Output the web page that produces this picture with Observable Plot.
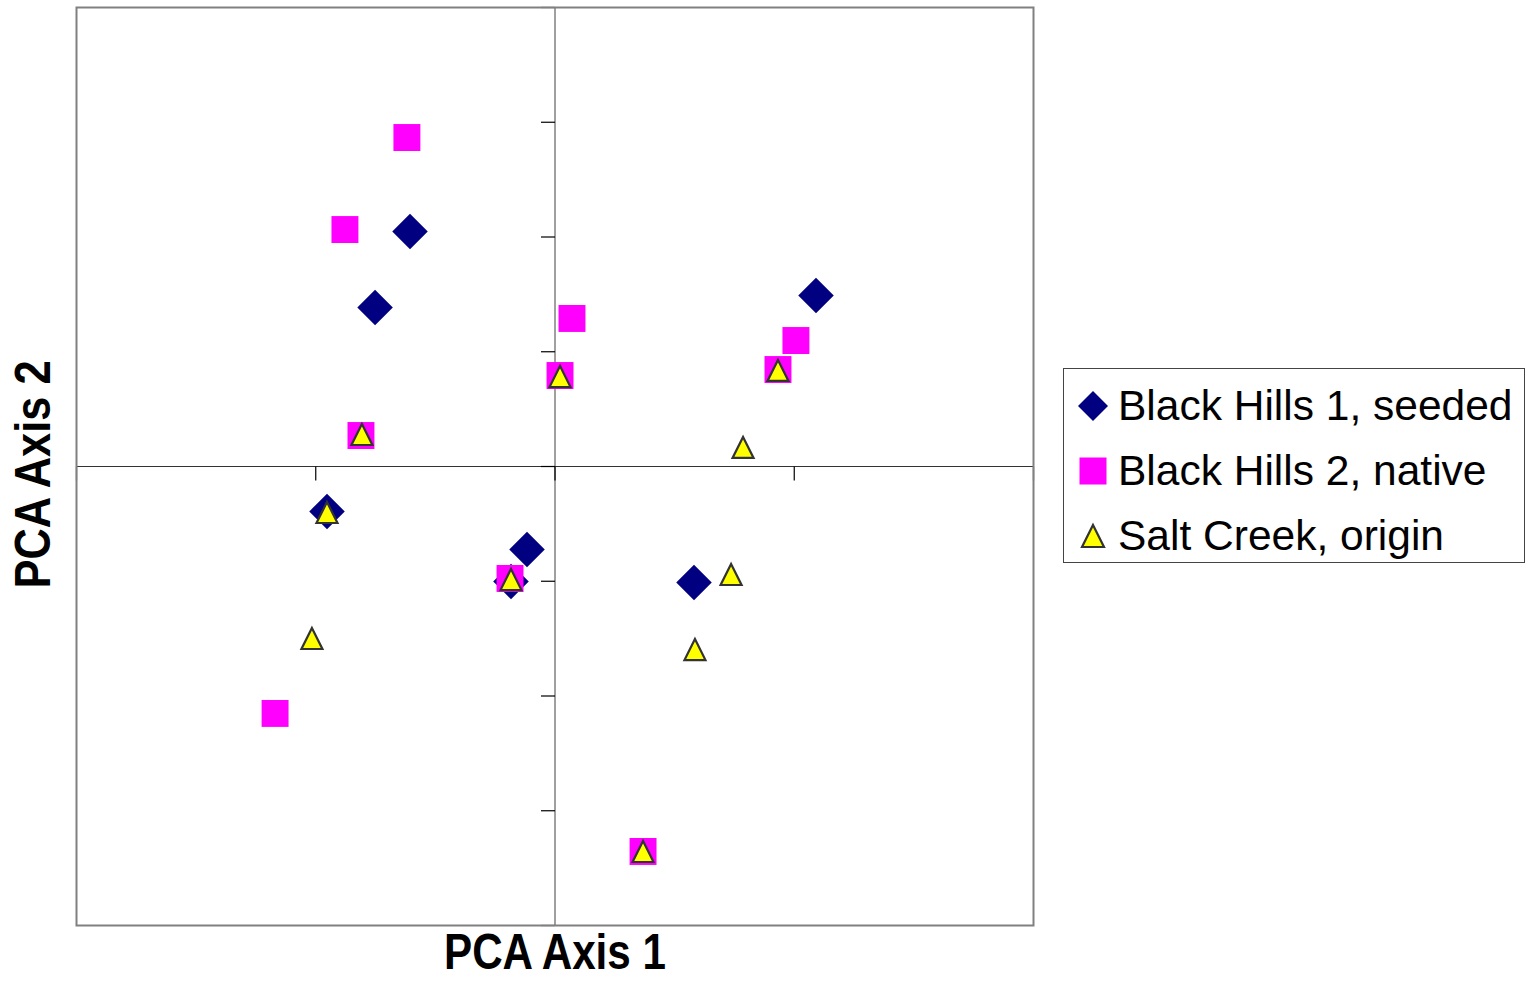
<!DOCTYPE html>
<html>
<head>
<meta charset="utf-8">
<script src="https://cdn.jsdelivr.net/npm/d3@7"></script>
<script src="https://cdn.jsdelivr.net/npm/@observablehq/plot@0.6"></script>
<style>
  html, body { margin: 0; padding: 0; background: #fff; }
  #wrap { position: relative; width: 1529px; height: 985px; font-family: "Liberation Sans", Arial, sans-serif; }
  #legend { position: absolute; left: 1063px; top: 368px; width: 462px; height: 195px;
            border: 1px solid #444; background: #fff; box-sizing: border-box; }
  .row { position: absolute; left: 0; height: 60px; display: flex; align-items: center; }
  .row svg { position: absolute; left: 12px; }
  .row span { position: absolute; left: 54px; font-size: 42.5px; white-space: nowrap; color: #000; line-height: 1; }
</style>
</head>
<body>
<div id="wrap"><div id="chart"></div><div id="legend"></div></div>
<script>
// Series names
const seriesNames = ["Black Hills 1, seeded", "Black Hills 2, native", "Salt Creek, origin"];

// Black Hills 1, seeded (diamonds)
const bh1X = [-0.606, -0.752, 1.091, -0.953, -0.117, -0.184, 0.581];
const bh1Y = [2.048, 1.386, 1.490, -0.392, -0.723, -1.002, -1.011];

// Black Hills 2, native (squares)
const bh2X = [-0.619, -0.878, 0.071, 0.021, 1.007, 0.932, -0.811, -0.188, -1.170, 0.368];
const bh2Y = [2.867, 2.065, 1.290, 0.793, 1.098, 0.845, 0.270, -0.976, -2.152, -3.355];

// Salt Creek, origin (triangles)
const scX = [-0.807, 0.021, 0.932, 0.786, -0.953, -0.184, -1.016, 0.736, 0.585, 0.368];
const scY = [0.279, 0.784, 0.837, 0.166, -0.401, -0.985, -1.499, -0.941, -1.595, -3.355];

// Tick values
const xTicks = [-2, -1, 0, 1, 2];
const yTicks = [-4, -3, -2, -1, 0, 1, 2, 3, 4];

const toRows = (xs, ys, s) => xs.map((x, i) => ({x, y: ys[i], series: s}));
const bh1 = toRows(bh1X, bh1Y, seriesNames[0]);
const bh2 = toRows(bh2X, bh2Y, seriesNames[1]);
const sc = toRows(scX, scY, seriesNames[2]);

const tickLeft = {draw(ctx) { ctx.moveTo(-14, 0); ctx.lineTo(0, 0); }};
const tickDown = {draw(ctx) { ctx.moveTo(0, 0); ctx.lineTo(0, 14); }};
const triUp = {draw(ctx) { ctx.moveTo(0, -10.5); ctx.lineTo(10.5, 10.5); ctx.lineTo(-10.5, 10.5); ctx.closePath(); }};

const titleFont = `"Liberation Sans", Arial, sans-serif`;

const chart = Plot.plot({
  width: 1529,
  height: 985,
  marginLeft: 76,
  marginTop: 7,
  marginRight: 496,
  marginBottom: 60,
  x: {domain: [-2, 2], axis: null},
  y: {domain: [-4, 4], axis: null},
  style: {background: "white", overflow: "visible", fontFamily: titleFont},
  marks: [
    Plot.ruleX([0], {stroke: "#808080", strokeWidth: 1.5}),
    Plot.ruleY([0], {stroke: "#333", strokeWidth: 1.2}),
    Plot.dot(yTicks, {x: 0, y: d => d, symbol: tickLeft, r: 5, fill: "none", stroke: "black", strokeWidth: 1.2}),
    Plot.dot(xTicks, {x: d => d, y: 0, symbol: tickDown, r: 5, fill: "none", stroke: "black", strokeWidth: 1.2}),
    Plot.frame({stroke: "#808080", strokeWidth: 2}),
    Plot.dot(bh1, {x: "x", y: "y", symbol: "diamond2", r: 16, fill: "#000080", stroke: "none"}),
    Plot.dot(bh2, {x: "x", y: "y", symbol: "square", r: 15.2, fill: "#FF00FF", stroke: "none"}),
    Plot.dot(sc, {x: "x", y: "y", symbol: triUp, r: 9, fill: "#FFFF00", stroke: "#333", strokeWidth: 2.2}),
    Plot.text(["PCA Axis 1"], {frameAnchor: "bottom", dy: 43, fontSize: 50, fontWeight: "bold",
      fontFamily: titleFont, fill: "black", className: "xlab"}),
    Plot.text(["PCA Axis 2"], {frameAnchor: "left", rotate: -90, dx: -43, dy: 8, textAnchor: "middle",
      fontSize: 50, fontWeight: "bold", fontFamily: titleFont, fill: "black", className: "ylab"})
  ]
});
// Narrow (condensed) look of the axis titles
chart.querySelectorAll(".xlab text").forEach(t => { t.setAttribute("textLength", 222); t.setAttribute("lengthAdjust", "spacingAndGlyphs"); });
chart.querySelectorAll(".ylab text").forEach(t => { t.setAttribute("textLength", 228); t.setAttribute("lengthAdjust", "spacingAndGlyphs"); });
document.getElementById("chart").appendChild(chart);

// Legend
const legend = document.getElementById("legend");
const symbolSvgs = [
  `<svg width="34" height="34" viewBox="-17 -17 34 34"><path d="M0,-15L15,0L0,15L-15,0Z" fill="#000080"/></svg>`,
  `<svg width="34" height="34" viewBox="-17 -17 34 34"><rect x="-13.5" y="-13.5" width="27" height="27" fill="#FF00FF"/></svg>`,
  `<svg width="34" height="34" viewBox="-17 -17 34 34"><path d="M0,-11L11,11L-11,11Z" fill="#FFFF00" stroke="#333" stroke-width="2.2"/></svg>`
];
const rowTops = [7, 72, 137];
seriesNames.forEach((name, i) => {
  const row = document.createElement("div");
  row.className = "row";
  row.style.top = rowTops[i] + "px";
  row.innerHTML = symbolSvgs[i] + `<span>${name}</span>`;
  legend.appendChild(row);
});
</script>
</body>
</html>
